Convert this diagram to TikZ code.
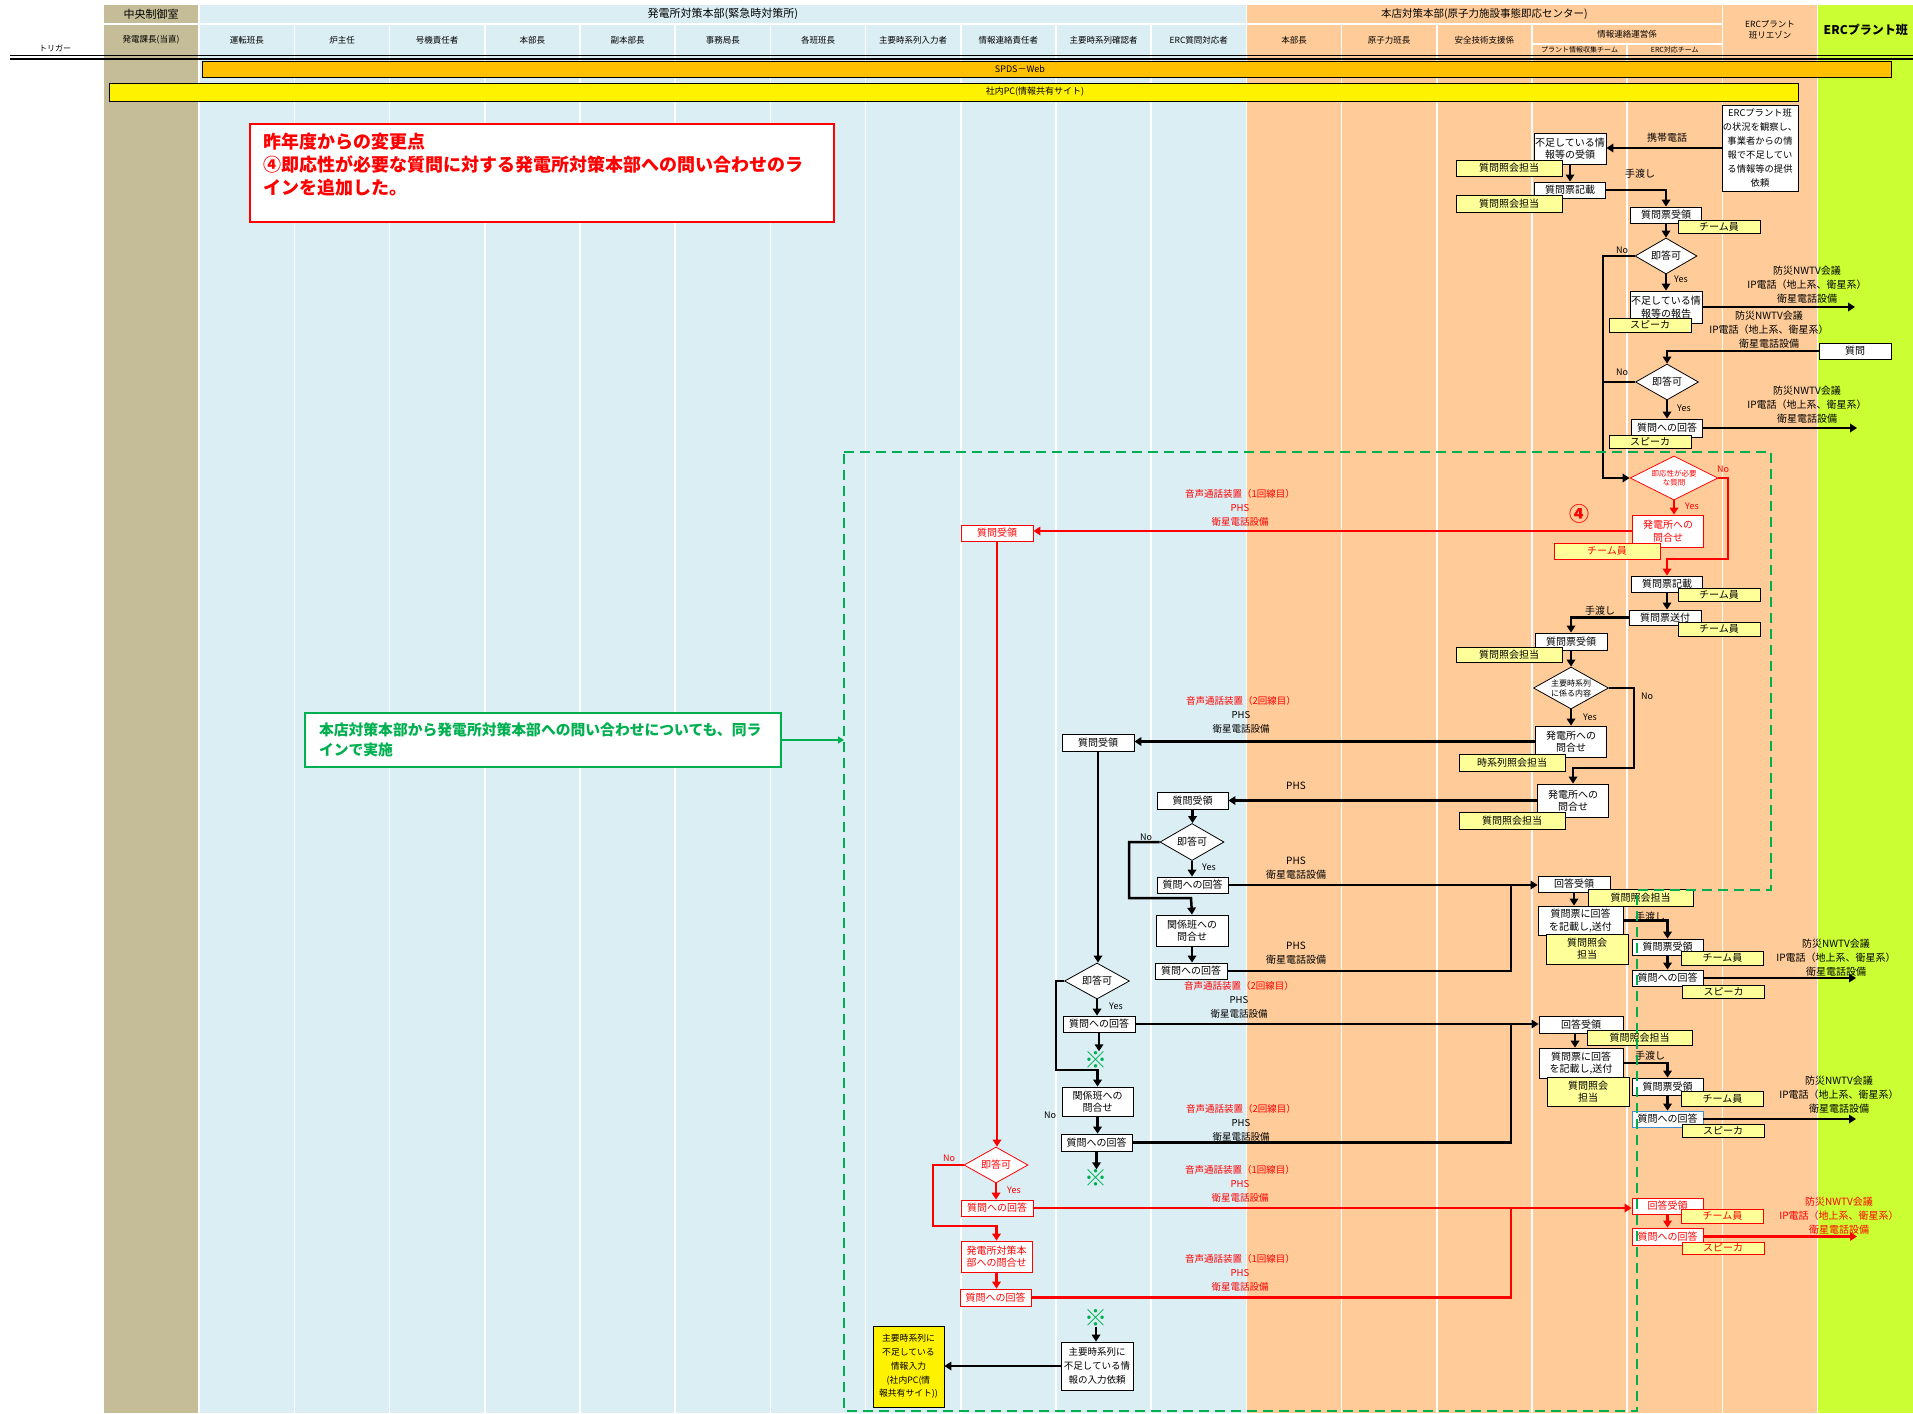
\documentclass[tikz,border=0pt]{standalone}
\usepackage{fontspec}
\setmainfont{Noto Sans CJK JP}
\usetikzlibrary{arrows.meta,shapes.geometric}
\definecolor{tanlane}{HTML}{C4BD97}
\definecolor{bluelane}{HTML}{DAEEF3}
\definecolor{orangelane}{HTML}{FFCC99}
\definecolor{greenlane}{HTML}{CCFF33}
\definecolor{spdsbar}{HTML}{FFC000}
\definecolor{tagyellow}{HTML}{FFFF99}
\definecolor{notegreen}{HTML}{00B050}
\definecolor{edgeblue}{HTML}{3D8FD6}
\begin{document}
\begin{tikzpicture}[x=1pt,y=-1pt,
  box/.style={draw=black,line width=0.8pt,fill=white,inner sep=0.5pt,align=center,
    font=\fontsize{10}{12.5}\selectfont,minimum width=71pt,minimum height=16pt},
  redbox/.style={box,draw=red,text=red},
  tag/.style={draw=black,line width=0.8pt,fill=tagyellow,inner sep=0.5pt,align=center,
    font=\fontsize{10}{12}\selectfont,minimum width=82pt,minimum height=14pt},
  redtag/.style={tag,draw=red,text=red},
  decision/.style={diamond,aspect=1.8,draw=black,line width=0.8pt,fill=white,inner sep=0pt,
    align=center,font=\fontsize{10}{12}\selectfont,minimum width=63pt,minimum height=36pt},
  flow/.style={line width=2.5pt,-{Triangle[length=7pt,width=8.5pt]}},
  redflow/.style={flow,red,line width=2.7pt},
  link/.style={line width=2.5pt},
  redlink/.style={link,red,line width=2.7pt},
  lab/.style={inner sep=0pt,align=center,font=\fontsize{10}{14}\selectfont},
  vlab/.style={lab,font=\fontsize{9.5}{14}\selectfont},
  yn/.style={inner sep=0pt,font=\fontsize{9}{10}\selectfont},
  head/.style={inner sep=0pt,align=center,font=\fontsize{8.5}{11}\selectfont},
  kome/.style={inner sep=0pt,text=notegreen,font=\fontsize{23}{23}\selectfont}]
\useasboundingbox (0,0) rectangle (1913,1413);
% lanes
\fill[white] (0,0) rectangle (1913,1413);
\fill[tanlane] (104,5) rectangle (198.4,23);
\fill[tanlane] (104,25) rectangle (198.4,1413);
\fill[bluelane] (200,5) rectangle (1245.6,23);
\foreach \k in {0,...,10}
  \fill[bluelane] ({200+95.2*\k},25) rectangle ({293.6+95.2*\k},1413);
\fill[orangelane] (1247.2,5) rectangle (1721.6,23);
\foreach \k in {0,1,2}
  \fill[orangelane] ({1247.2+95.2*\k},25) rectangle ({1340.8+95.2*\k},1413);
\fill[orangelane] (1532.8,25) rectangle (1721.6,43);
\foreach \k in {3,4}
  \fill[orangelane] ({1247.2+95.2*\k},45) rectangle ({1340.8+95.2*\k},1413);
\fill[orangelane] (1723.2,5) rectangle (1816.8,1413);
\fill[greenlane] (1818.4,5) rectangle (1913,1413);
% headings
\node[head,font=\fontsize{11}{12}\selectfont] (h0) at (151,14) {中央制御室};
\node[head,font=\fontsize{11}{12}\selectfont] (h1) at (722.8,14) {発電所対策本部(緊急時対策所)};
\node[head,font=\fontsize{10.5}{12}\selectfont] (h2) at (1484.4,14) {本店対策本部(原子力施設事態即応センター)};
\node[head] (h3) at (1770,30) {ERCプラント\\班リエゾン};
\node[head,font=\bfseries\fontsize{12}{14}\selectfont] (h4) at (1865.7,30) {ERCプラント班};
\node[head] (h5) at (151,40) {発電課長(当直)};
\foreach \t [count=\k from 0] in {運転班長,炉主任,号機責任者,本部長,副本部長,事務局長,各班班長,主要時系列入力者,情報連絡責任者,主要時系列確認者,ERC質問対応者}
  \node[head] (c\k) at ({246.8+95.2*\k},40) {\t};
\foreach \t [count=\k from 0] in {本部長,原子力班長,安全技術支援係}
  \node[head] (o\k) at ({1294+95.2*\k},40) {\t};
\node[head] (o3) at (1627.2,34) {情報連絡運営係};
\node[head,font=\fontsize{7}{8}\selectfont] (o4) at (1579.6,50) {プラント情報収集チーム};
\node[head,font=\fontsize{7}{8}\selectfont] (o5) at (1674.8,50) {ERC対応チーム};
\node[head,font=\fontsize{8}{9}\selectfont] (trig) at (55,48) {トリガー};
\draw[line width=1.5pt] (10,55.5) -- (1913,55.5);
\draw[line width=1.5pt] (10,58.8) -- (1913,58.8);
% systems
\draw[fill=spdsbar,line width=0.8pt] (202,61) rectangle (1891,77);
\node[head,font=\fontsize{9}{10}\selectfont] (spds) at (1020,69) {SPDS－Web};
\draw[fill=yellow,line width=0.8pt] (109,83) rectangle (1798,101);
\node[head,font=\fontsize{9}{10}\selectfont] (pc) at (1035,92) {社内PC(情報共有サイト)};
% notes
\node[draw=red,line width=2.5pt,fill=white,minimum width=584pt,minimum height=98pt] (note1) at (542,173) {};
\node[anchor=north west,inner sep=0pt,align=left,text=red,font=\bfseries\fontsize{18}{23}\selectfont] (note1txt) at (263,133)
  {昨年度からの変更点\\④即応性が必要な質問に対する発電所対策本部への問い合わせのラ\\インを追加した。};
\node[draw=notegreen,line width=2.5pt,fill=white,minimum width=476pt,minimum height=54pt,
  text width=448pt,inner xsep=14pt,align=left,text=notegreen,font=\bfseries\fontsize{14.8}{20}\selectfont] (note2) at (543,740)
  {本店対策本部から発電所対策本部への問い合わせについても、同ラ\\インで実施};
\coordinate (dashleft) at (844,740);
\draw[notegreen,line width=2pt,-{Triangle[length=6pt,width=7pt]}] (note2.east) -- (dashleft);

% ERC request, first questions
\node[box,minimum width=76pt,minimum height=86pt,font=\fontsize{9.3}{14}\selectfont] (ercreq) at (1760,148)
  {ERCプラント班\\の状況を観察し、\\事業者からの情\\報で不足してい\\る情報等の提供\\依頼};
\node[box,minimum width=72pt,minimum height=31pt] (recv1) at (1570,148.5) {不足している情\\報等の受領};
\node[box] (write1) at (1570,190) {質問票記載};
\node[box] (take1) at (1666,215) {質問票受領};
\node[decision,minimum width=62pt] (dq1) at (1666,256) {即答可};
\node[box,minimum width=72pt,minimum height=32pt] (rep1) at (1666,307) {不足している情\\報等の報告};
\node[box,minimum width=72pt] (q1) at (1855,351) {質問};
\node[decision] (dq2) at (1667,382) {即答可};
\node[box,minimum height=18pt] (ans1) at (1667,428) {質問への回答};
\coordinate (out1) at (1855,307);
\coordinate (out2) at (1857,428);

% urgent question (new line)
\node[decision,draw=red,text=red,aspect=2,minimum width=88pt,minimum height=44pt,font=\fontsize{7.5}{9.5}\selectfont] (dimm) at (1674,478) {即応性が必要\\な質問};
\node[redbox,minimum height=32pt] (rask) at (1668,531) {発電所への\\問合せ};
\node[box] (write2) at (1667,584) {質問票記載};
\node[box,minimum width=72pt,minimum height=15pt] (send2) at (1665,617.5) {質問票送付};
\node[box,minimum width=72pt,minimum height=17pt] (take2) at (1571,641.5) {質問票受領};
\node[decision,minimum width=75pt,minimum height=42pt,font=\fontsize{8}{10}\selectfont] (dmain) at (1571,688) {主要時系列\\に係る内容};
\node[box,minimum height=31pt] (ask1) at (1571,741.5) {発電所への\\問合せ};
\node[box,minimum height=33pt] (ask2) at (1573,800.5) {発電所への\\問合せ};

% power station side
\node[redbox,minimum width=72pt] (rrecv) at (997,533) {質問受領};
\node[box,minimum width=72pt,minimum height=17pt] (recvA) at (1098,742.5) {質問受領};
\node[box,minimum height=17pt] (recvB) at (1192.5,800.5) {質問受領};
\node[decision,minimum width=64pt,minimum height=37pt] (dq3) at (1192,842) {即答可};
\node[box] (ans2) at (1192.5,885) {質問への回答};
\node[box,minimum width=72pt,minimum height=31pt] (rel1) at (1192,930.5) {関係班への\\問合せ};
\node[box,minimum width=72pt] (ans3) at (1191,971) {質問への回答};
\node[decision,minimum width=65pt] (dq4) at (1097,981) {即答可};
\node[box,minimum width=72pt] (ans4) at (1099,1024) {質問への回答};
\node[kome] (kome1) at (1096,1060) {※};
\node[box,minimum height=29pt] (rel2) at (1097.5,1101.5) {関係班への\\問合せ};
\node[box,minimum height=17pt] (ans5) at (1096.5,1142.5) {質問への回答};
\node[kome] (kome2) at (1096,1178) {※};
\node[decision,draw=red,text=red,minimum width=64pt] (drd) at (996,1165) {即答可};
\node[redbox,minimum width=72pt] (rans1) at (997,1208) {質問への回答};
\node[redbox,minimum height=31pt] (rask2) at (996.5,1256.5) {発電所対策本\\部への問合せ};
\node[redbox,minimum height=17pt] (rans2) at (995.5,1297.5) {質問への回答};
\node[kome] (kome3) at (1096,1318) {※};
\node[box,minimum width=72pt,minimum height=48pt,font=\fontsize{9.5}{14}\selectfont] (reqin) at (1097,1366) {主要時系列に\\不足している情\\報の入力依頼};
\node[box,fill=yellow,minimum height=81pt,font=\fontsize{8.8}{13.7}\selectfont] (ybox) at (908.5,1366.5) {主要時系列に\\不足している\\情報入力\\(社内PC(情\\報共有サイト))};

% answers back at head office
\node[box,minimum width=72pt] (got1) at (1574,884) {回答受領};
\node[box,minimum width=85pt,minimum height=29pt] (fill1) at (1580.5,920.5) {質問票に回答\\を記載し,送付};
\node[box] (take3) at (1667.5,947) {質問票受領};
\node[box] (ans6) at (1667.5,978) {質問への回答};
\node[box,minimum width=84pt,minimum height=17pt] (got2) at (1581,1024.5) {回答受領};
\node[box,minimum width=84pt,minimum height=30pt] (fill2) at (1581,1063) {質問票に回答\\を記載し,送付};
\node[box,minimum height=17pt] (take4) at (1667.5,1086.5) {質問票受領};
\node[box,draw=edgeblue] (ans7) at (1667.5,1119) {質問への回答};
\node[redbox] (rgot) at (1667.5,1206) {回答受領};
\node[redbox,minimum height=17pt] (rans3) at (1667.5,1236.5) {質問への回答};
\coordinate (out3) at (1856,978);
\coordinate (out4) at (1856,1119);
\coordinate (out5) at (1857,1236.5);

% connectors
\draw[flow] (ercreq.west) -- (recv1.east |- ercreq.west);
\draw[flow] (recv1.south) -- (write1.north);
\draw[flow] (write1.east) -| (take1.north);
\draw[flow] (take1.south) -- (dq1.north);
\draw[flow] (dq1.south) -- (rep1.north);
\draw[flow] (rep1.east) -- (out1);
\draw[flow] (q1.west) -| (dq2.north);
\draw[flow] (dq2.south) -- (ans1.north);
\draw[flow] (ans1.east) -- (out2);
\draw[flow] (dq1.west) -- (1603,256) |- (dimm.west);
\draw[link] (dq2.west) -- (1603,382);
\draw[redflow] (dimm.south) -- (dimm.south |- rask.north);
\draw[redflow] (dimm.east) -- (1728,478) |- (1667,559) -- (write2.north);
\draw[redflow] (rask.west) -- (rrecv.east |- rask.west);
\draw[flow] (write2.south) -- (write2.south |- send2.north);
\draw[flow] (send2.west) -| (take2.north);
\draw[flow] (take2.south) -- (dmain.north);
\draw[flow] (dmain.south) -- (ask1.north);
\draw[flow] (dmain.east) -- (1634,688) |- (1573,768) -- (ask2.north);
\draw[flow] (ask1.west) -- (recvA.east |- ask1.west);
\draw[flow] (ask2.west) -- (recvB.east |- ask2.west);
\draw[flow] (recvB.south) -- (recvB.south |- dq3.north);
\draw[flow] (dq3.south) -- (dq3.south |- ans2.north);
\draw[flow] (dq3.west) -- (1129,842) |- (1191,898) -- (rel1.north);
\draw[flow] (ans2.east) -- (got1.west |- ans2.east);
\draw[flow] (rel1.south) -- (rel1.south |- ans3.north);
\draw[link] (ans3.east) -| (1511,885);
\draw[flow] (recvA.south) -- (recvA.south |- dq4.north);
\draw[flow] (dq4.south) -- (dq4.south |- ans4.north);
\draw[flow] (dq4.west) -- (1056,981) |- (1097.5,1070) -- (rel2.north);
\draw[flow] (ans4.east) -- (got2.west |- ans4.east);
\draw[flow] (ans4.south) -- (ans4.south |- kome1.north);
\draw[flow] (rel2.south) -- (rel2.south |- ans5.north);
\draw[link] (ans5.east) -| (1511,1024);
\draw[flow] (ans5.south) -- (ans5.south |- kome2.north);
\draw[redflow] (rrecv.south) -- (rrecv.south |- drd.north);
\draw[redflow] (drd.south) -- (drd.south |- rans1.north);
\draw[redflow] (drd.west) -- (933,1165) |- (996.5,1226) -- (rask2.north);
\draw[redflow] (rans1.east) -- (rgot.west |- rans1.east);
\draw[redflow] (rask2.south) -- (rask2.south |- rans2.north);
\draw[redlink] (rans2.east) -| (1511,1208);
\draw[flow] (kome3.south) -- (kome3.south |- reqin.north);
\draw[flow] (reqin.west) -- (ybox.east |- reqin.west);
\draw[flow] (got1.south) -- (got1.south |- fill1.north);
\draw[flow] (fill1.east) -| (take3.north);
\draw[flow] (take3.south) -- (ans6.north);
\draw[flow] (ans6.east) -- (out3);
\draw[flow] ([xshift=-6pt]got2.south) -- ([xshift=-6pt]got2.south |- fill2.north);
\draw[flow] (fill2.east) -| (take4.north);
\draw[flow] (take4.south) -- (ans7.north);
\draw[flow] (ans7.east) -- (out4);
\draw[redflow] (rgot.south) -- (rans3.north);
\draw[redflow] (rans3.east) -- (out5);

% role tags
\node[tag,minimum width=106pt,minimum height=16pt] (tq1) at (1509,168) {質問照会担当};
\node[tag,minimum width=106pt,minimum height=17pt] (tq2) at (1509,203.5) {質問照会担当};
\node[tag,minimum height=13pt] (tm1) at (1719,226.5) {チーム員};
\node[tag] (tsp1) at (1650,325) {スピーカ};
\node[tag,minimum height=13pt] (tsp2) at (1650,441.5) {スピーカ};
\node[redtag,minimum width=106pt,minimum height=16pt] (tr1) at (1607,551) {チーム員};
\node[tag,minimum height=13pt] (tm2) at (1719,594.5) {チーム員};
\node[tag] (tm3) at (1719,629) {チーム員};
\node[tag,minimum width=106pt,minimum height=15pt] (tq3) at (1509,654.5) {質問照会担当};
\node[tag,minimum width=106pt,minimum height=17pt] (tt1) at (1512,762.5) {時系列照会担当};
\node[tag,minimum width=106pt,minimum height=17pt] (tq4) at (1512,820.5) {質問照会担当};
\node[tag,minimum width=105pt,minimum height=17pt] (tq5) at (1640.5,897.5) {質問照会担当};
\node[tag,minimum height=30pt] (tq6) at (1587,949) {質問照会\\担当};
\node[tag] (tm4) at (1722.5,958) {チーム員};
\node[tag,minimum height=13pt] (tsp3) at (1723.5,991.5) {スピーカ};
\node[tag,minimum width=105pt,minimum height=15pt] (tq7) at (1639.5,1037.5) {質問照会担当};
\node[tag,minimum height=29pt] (tq8) at (1588,1091.5) {質問照会\\担当};
\node[tag,minimum height=15pt] (tm5) at (1722.5,1098.5) {チーム員};
\node[tag,minimum height=13pt] (tsp4) at (1723,1130.5) {スピーカ};
\node[redtag] (tr2) at (1722.5,1216) {チーム員};
\node[redtag,minimum height=12pt] (tr3) at (1723,1248) {スピーカ};

% line labels
\node[lab] (l1) at (1667,138) {携帯電話};
\node[lab] (l2) at (1640,174) {手渡し};
\node[lab] (l3) at (1807,285) {防災NWTV会議\\IP電話（地上系、衛星系）\\衛星電話設備};
\node[lab] (l4) at (1769,330) {防災NWTV会議\\IP電話（地上系、衛星系）\\衛星電話設備};
\node[lab] (l5) at (1807,405) {防災NWTV会議\\IP電話（地上系、衛星系）\\衛星電話設備};
\node[vlab,text=red] (l6) at (1240,508) {音声通話装置（1回線目）\\PHS\\衛星電話設備};
\node[lab] (l7) at (1600,611) {手渡し};
\node[vlab] (l8) at (1241,715) {\textcolor{red}{音声通話装置（2回線目）}\\PHS\\衛星電話設備};
\node[lab] (l9) at (1296,786) {PHS};
\node[lab] (l10) at (1296,868) {PHS\\衛星電話設備};
\node[lab] (l11) at (1296,953) {PHS\\衛星電話設備};
\node[vlab] (l12) at (1239,1000) {\textcolor{red}{音声通話装置（2回線目）}\\PHS\\衛星電話設備};
\node[vlab] (l13) at (1241,1123) {\textcolor{red}{音声通話装置（2回線目）}\\PHS\\衛星電話設備};
\node[vlab,text=red] (l14) at (1240,1184) {音声通話装置（1回線目）\\PHS\\衛星電話設備};
\node[vlab,text=red] (l15) at (1240,1273) {音声通話装置（1回線目）\\PHS\\衛星電話設備};
\node[lab] (l16) at (1650,917) {手渡し};
\node[lab] (l17) at (1836,958) {防災NWTV会議\\IP電話（地上系、衛星系）\\衛星電話設備};
\node[lab] (l18) at (1650,1056) {手渡し};
\node[lab] (l19) at (1839,1095) {防災NWTV会議\\IP電話（地上系、衛星系）\\衛星電話設備};
\node[lab,text=red] (l20) at (1839,1216) {防災NWTV会議\\IP電話（地上系、衛星系）\\衛星電話設備};
\node[inner sep=0pt,text=red,font=\bfseries\fontsize{20}{20}\selectfont] (mark4) at (1579,514) {④};
% yes / no
\node[yn] (n1) at (1622,250) {No};
\node[yn] (y1) at (1681,279) {Yes};
\node[yn] (n2) at (1622,372) {No};
\node[yn] (y2) at (1684,408) {Yes};
\node[yn,text=red] (n3) at (1723,469) {No};
\node[yn,text=red] (y3) at (1692,506) {Yes};
\node[yn] (n4) at (1647,696) {No};
\node[yn] (y4) at (1590,717) {Yes};
\node[yn] (n5) at (1146,837) {No};
\node[yn] (y5) at (1209,867) {Yes};
\node[yn] (n6) at (1050,1115) {No};
\node[yn] (y6) at (1116,1006) {Yes};
\node[yn,text=red] (n7) at (949,1158) {No};
\node[yn,text=red] (y7) at (1014,1190) {Yes};

% scope of the new line
\draw[notegreen,line width=2.5pt,dash pattern=on 10pt off 6pt] (844,452) -- (1771,452) -- (1771,890) -- (1637,890) -- (1637,1411) -- (844,1411) -- cycle;
\end{tikzpicture}
\end{document}
